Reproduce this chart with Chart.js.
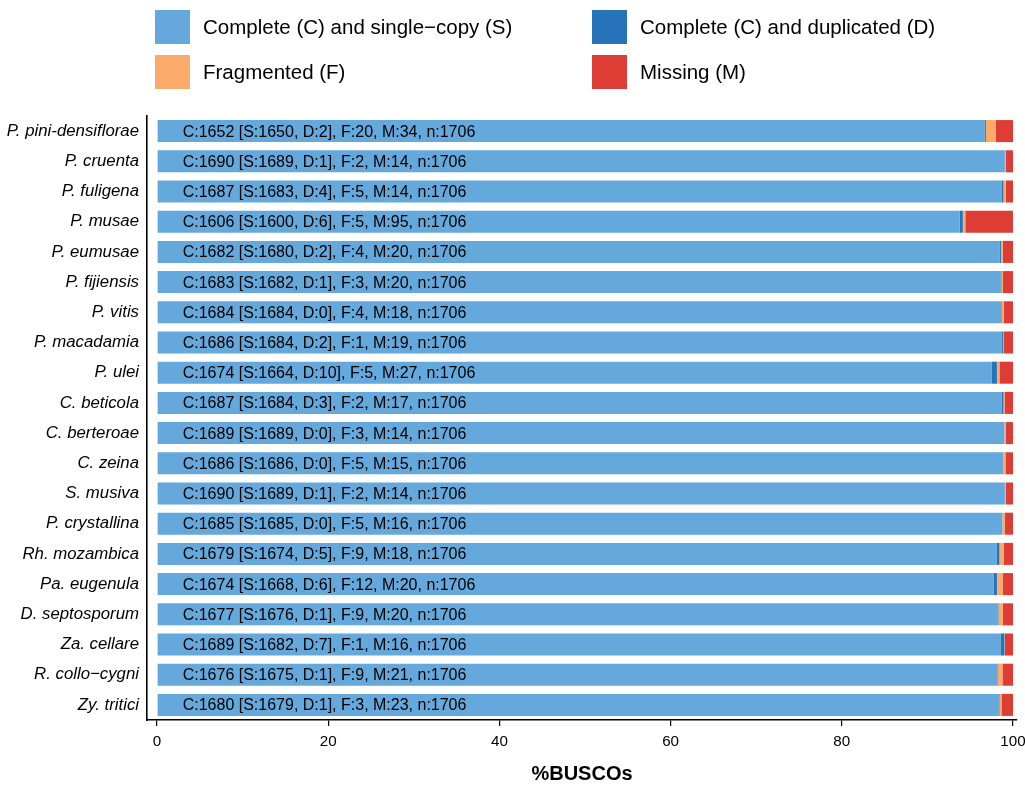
<!DOCTYPE html>
<html>
<head>
<meta charset="utf-8">
<script src="https://cdn.jsdelivr.net/npm/chart.js@4/dist/chart.umd.min.js"></script>
<style>
  body { margin: 0; background: #fff; }
  #wrap { position: relative; width: 1025px; height: 786px; font-family: "Liberation Sans", Arial, sans-serif; }
  .leg { position: absolute; display: flex; align-items: center; font-size: 20.5px; color: #000; }
  .leg span.box { display: inline-block; width: 35px; height: 34px; margin-right: 13px; }
</style>
</head>
<body>
<div id="wrap">
  <canvas id="chart" width="1025" height="786"></canvas>
  <div class="leg" style="left:155px; top:10px;"><span class="box" style="background:#64a8dc"></span>Complete (C) and single−copy (S)</div>
  <div class="leg" style="left:592px; top:10px;"><span class="box" style="background:#2673ba"></span>Complete (C) and duplicated (D)</div>
  <div class="leg" style="left:155px; top:55px;"><span class="box" style="background:#faaa6a"></span>Fragmented (F)</div>
  <div class="leg" style="left:592px; top:55px;"><span class="box" style="background:#dd3d34"></span>Missing (M)</div>
</div>
<script>
// especies (de arriba a abajo)
const species = [
  'P. pini-densiflorae', 'P. cruenta', 'P. fuligena', 'P. musae', 'P. eumusae',
  'P. fijiensis', 'P. vitis', 'P. macadamia', 'P. ulei', 'C. beticola',
  'C. berteroae', 'C. zeina', 'S. musiva', 'P. crystallina', 'Rh. mozambica',
  'Pa. eugenula', 'D. septosporum', 'Za. cellare', 'R. collo−cygni', 'Zy. tritici'
];

// conteos BUSCO
const single     = [1650, 1689, 1683, 1600, 1680, 1682, 1684, 1684, 1664, 1684, 1689, 1686, 1689, 1685, 1674, 1668, 1676, 1682, 1675, 1679];
const duplicated = [2, 1, 4, 6, 2, 1, 0, 2, 10, 3, 0, 0, 1, 0, 5, 6, 1, 7, 1, 1];
const fragmented = [20, 2, 5, 5, 4, 3, 4, 1, 5, 2, 3, 5, 2, 5, 9, 12, 9, 1, 9, 3];
const missing    = [34, 14, 14, 95, 20, 20, 18, 19, 27, 17, 14, 15, 14, 16, 18, 20, 20, 16, 21, 23];
const total = 1706;

const xTicks = [0, 20, 40, 60, 80, 100];

const pct = arr => arr.map(v => v / total * 100);

// Texto dentro de cada barra
const barText = {
  id: 'barText',
  afterDatasetsDraw(chart) {
    const ctx = chart.ctx;
    const x = chart.scales.x.getPixelForValue(3);
    ctx.save();
    ctx.font = '16px "Liberation Sans", Arial, sans-serif';
    ctx.fillStyle = '#000';
    ctx.textAlign = 'left';
    ctx.textBaseline = 'middle';
    species.forEach((s, i) => {
      const y = chart.scales.y.getPixelForValue(i);
      const c = single[i] + duplicated[i];
      const txt = `C:${c} [S:${single[i]}, D:${duplicated[i]}], F:${fragmented[i]}, M:${missing[i]}, n:${total}`;
      ctx.fillText(txt, x, y + 1);
    });
    ctx.restore();
  }
};

const ds = (label, data, color) => ({
  label: label,
  data: pct(data),
  backgroundColor: color,
  borderWidth: 0,
  barPercentage: 0.73,
  categoryPercentage: 1
});

new Chart(document.getElementById('chart').getContext('2d'), {
  type: 'bar',
  data: {
    labels: species,
    datasets: [
      ds('Complete (C) and single−copy (S)', single, '#64a8dc'),
      ds('Complete (C) and duplicated (D)', duplicated, '#2673ba'),
      ds('Fragmented (F)', fragmented, '#faaa6a'),
      ds('Missing (M)', missing, '#dd3d34')
    ]
  },
  options: {
    indexAxis: 'y',
    responsive: false,
    animation: false,
    layout: { padding: { top: 116, right: 8, left: 0, bottom: 0 } },
    plugins: {
      legend: { display: false },
      tooltip: { enabled: false }
    },
    scales: {
      x: {
        stacked: true,
        min: -1.17,
        max: 100.47,
        afterBuildTicks: scale => { scale.ticks = xTicks.map(v => ({ value: v })); },
        afterFit: scale => {
          scale.height = 66;
          scale.paddingLeft = 0;
          scale.paddingRight = 0;
        },
        grid: { drawOnChartArea: false, drawTicks: true, tickLength: 6, color: '#000', lineWidth: 1.2 },
        border: { display: true, color: '#000', width: 1.6 },
        ticks: { color: '#000', font: { family: '"Liberation Sans", Arial, sans-serif', size: 15.2 }, padding: 7, maxRotation: 0 },
        title: {
          display: true,
          text: '%BUSCOs',
          color: '#000',
          font: { family: '"Liberation Sans", Arial, sans-serif', size: 20, weight: 'bold' },
          padding: { top: 0, bottom: 0 }
        }
      },
      y: {
        stacked: true,
        afterFit: scale => { scale.width = 147; },
        grid: { display: false, drawTicks: false },
        border: { display: true, color: '#000', width: 1.6 },
        ticks: { color: '#000', font: { family: '"Liberation Sans", Arial, sans-serif', size: 16.8, style: 'italic' }, padding: 8 }
      }
    }
  },
  plugins: [barText]
});
</script>
</body>
</html>
